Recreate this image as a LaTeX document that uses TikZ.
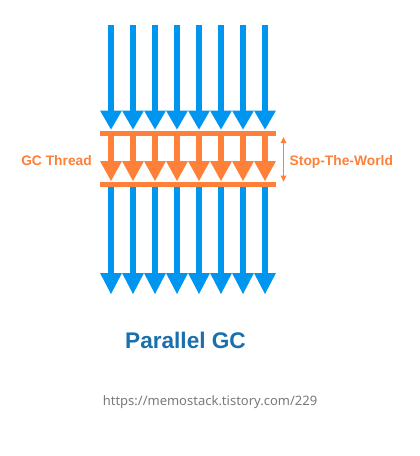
\documentclass[tikz,border=0pt]{standalone}
\usepackage{fontspec}
\setmainfont{Liberation Sans}
\newfontfamily\urlfont{Noto Sans}
\usetikzlibrary{arrows.meta}
\definecolor{gcblue}{HTML}{0096F0}
\definecolor{gcorange}{HTML}{FF8038}
\definecolor{titleblue}{HTML}{1A6FAC}
\definecolor{urlgray}{HTML}{7A7A7A}
\tikzset{
  bluearrow/.style={draw=gcblue, line width=6pt,
    -{Triangle[width=22pt,length=#1,line width=0pt]}},
  orangearrow/.style={draw=gcorange, line width=6.5pt,
    -{Triangle[width=22pt,length=20pt,line width=0pt]}},
  orangebar/.style={draw=gcorange, line width=5pt},
  stwarrow/.style={draw=gcorange, line width=1.4pt,
    {Triangle[width=6pt,length=6pt,line width=0pt]}-{Triangle[width=6pt,length=6pt,line width=0pt]}},
  lbl/.style={inner sep=0pt, font=\bfseries\fontsize{13.8}{16}\selectfont, text=gcorange},
}
\begin{document}
\begin{tikzpicture}[x=1pt,y=-1pt]
\useasboundingbox (0,0) rectangle (420,456);
\fill[white] (0,0) rectangle (420,456);
% orange bars
\coordinate (barTL) at (100,133.5);
\coordinate (barTR) at (276,133.5);
\coordinate (barBL) at (100,184);
\coordinate (barBR) at (276,184);
\foreach \i in {0,...,7}{
  \pgfmathsetmacro{\xx}{111+22*\i}
  \coordinate (t\i) at (\xx,25);
  \coordinate (tm\i) at (\xx,129.5);
  \coordinate (o\i) at (\xx,136);
  \coordinate (om\i) at (\xx,181);
  \coordinate (b\i) at (\xx,186);
  \coordinate (be\i) at (\xx,294);
  \draw[bluearrow=19pt] (t\i) -- (tm\i);
  \draw[orangearrow] (o\i) -- (om\i);
  \draw[bluearrow=21pt] (b\i) -- (be\i);
}
\draw[orangebar] (barTL) -- (barTR);
\draw[orangebar] (barBL) -- (barBR);
% stop-the-world
\coordinate (swT) at (283.5,137);
\coordinate (swB) at (283.5,181.5);
\draw[stwarrow] (swT) -- (swB);
\node[lbl, anchor=base east] (gct) at (92,165) {GC Thread};
\node[lbl, anchor=base west] (stw) at (289.5,165) {Stop-The-World};
\node[inner sep=0pt, anchor=base, font=\bfseries\fontsize{22.6}{26}\selectfont, text=titleblue] (title) at (185.5,348) {Parallel GC};
\node[inner sep=0pt, anchor=base, font=\urlfont\fontsize{13}{15}\selectfont, text=urlgray] (url) at (210,405) {https://memostack.tistory.com/229};
\end{tikzpicture}
\end{document}
